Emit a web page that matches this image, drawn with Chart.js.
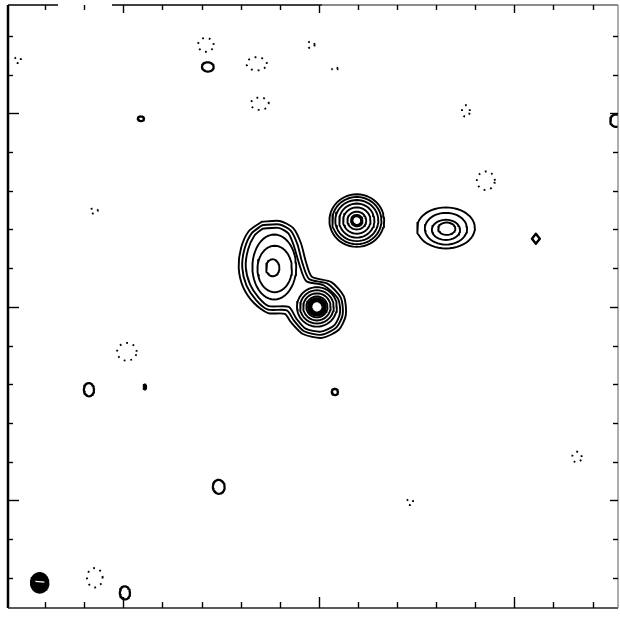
<!DOCTYPE html>
<html>
<head>
<meta charset="utf-8">
<script src="https://cdn.jsdelivr.net/npm/chart.js@4.4.1/dist/chart.umd.min.js"></script>
<style>
html,body{margin:0;padding:0;background:#fff;}
#wrap{width:620px;height:618px;}
</style>
</head>
<body>
<div id="wrap"><canvas id="c" width="620" height="618"></canvas></div>
<script>
// ---- Axes (offsets, arbitrary units: one unit per minor tick) ----
const X_TICKS = [-7,-6,-5,-4,-3,-2,-1,0,1,2,3,4,5,6,7];
const Y_TICKS = [-7,-6,-5,-4,-3,-2,-1,0,1,2,3,4,5,6,7];
const MAJOR_TICKS = [-5,0,5];
const X_LIMITS = [-7.95, 7.65];
const Y_LIMITS = [-7.78, 7.80];

// ---- Contours of the double source, traced as vertex lists [x, y] ----
const envelope1 = [[-1.46,2.20],[-1.00,2.22],[-0.66,2.04],[-0.46,1.65],[-0.33,1.16],[-0.18,0.78],[0.32,0.64],[0.64,0.27],[0.69,-0.21],[0.51,-0.59],[0.08,-0.80],[-0.41,-0.70],[-0.72,-0.39],[-0.87,-0.18],[-1.30,-0.16],[-1.66,0.10],[-1.94,0.52],[-2.05,1.01],[-1.99,1.52],[-1.79,1.96]];
const envelope2 = [[-1.45,2.11],[-1.01,2.13],[-0.72,1.97],[-0.55,1.62],[-0.42,1.13],[-0.25,0.72],[0.22,0.60],[0.56,0.24],[0.61,-0.19],[0.45,-0.53],[0.07,-0.72],[-0.38,-0.63],[-0.64,-0.35],[-0.82,-0.09],[-1.30,-0.07],[-1.60,0.17],[-1.85,0.55],[-1.96,1.02],[-1.90,1.50],[-1.72,1.90]];
const envelope3 = [[-1.44,2.02],[-1.03,2.04],[-0.78,1.90],[-0.64,1.58],[-0.50,1.10],[-0.32,0.66],[0.12,0.56],[0.49,0.21],[0.54,-0.16],[0.40,-0.47],[0.05,-0.64],[-0.34,-0.56],[-0.57,-0.31],[-0.77,0.00],[-1.28,0.02],[-1.54,0.24],[-1.76,0.58],[-1.87,1.03],[-1.81,1.48],[-1.65,1.84]];

// ---- Elliptical contours: [centreX, centreY, semiAxisX, semiAxisY] ----
const upperLobe = [[-1.14,1.03,0.56,0.84],[-1.13,0.98,0.44,0.60],[-1.18,1.01,0.17,0.22]];
const lowerCore = [[-0.05,0.00,0.51,0.51],[-0.05,0.00,0.43,0.43],[-0.05,0.00,0.35,0.35],[-0.05,0.00,0.27,0.27]];
const lowerCoreInner = [[-0.05,0.00,0.21,0.21],[-0.05,0.00,0.16,0.16]];
const compactSource = [[0.97,2.23,0.70,0.68],[0.97,2.23,0.63,0.61],[0.97,2.23,0.55,0.53],[0.97,2.23,0.45,0.44],[0.97,2.23,0.35,0.34],[0.97,2.23,0.24,0.23]];
const compactSourceInner = [[0.97,2.23,0.13,0.13]];
const eastSource = [[3.25,2.04,0.74,0.53],[3.25,2.02,0.54,0.41],[3.25,1.99,0.36,0.26],[3.27,2.02,0.22,0.16]];
const weakPositive = [[-2.84,6.20,0.15,0.12],[-4.55,4.86,0.08,0.06],[-5.88,-2.14,0.13,0.17],[0.41,-2.20,0.08,0.08],[-2.56,-4.65,0.15,0.18],[-4.96,-7.39,0.13,0.17],[7.60,4.81,0.15,0.16]];
const weakDiamond = [[5.55,1.76,0.10,0.13]];
const filledMarks = [[-4.45,-2.07,0.04,0.07],[-7.14,-7.13,0.23,0.26]];
const negative = [[-2.89,6.77,0.20,0.18],[-1.59,6.28,0.26,0.17],[-1.51,5.25,0.23,0.16],[-0.20,6.77,0.09,0.09],[0.41,6.15,0.07,0.05],[3.76,5.06,0.10,0.15],[4.27,3.26,0.23,0.24],[-5.75,2.48,0.10,0.07],[-4.91,-1.16,0.25,0.23],[-5.73,-7.00,0.20,0.25],[2.33,-5.04,0.08,0.08],[6.60,-3.88,0.12,0.14],[-7.70,6.38,0.08,0.08]];
const beamHatch = [[-7.25,-7.09],[-7.02,-7.11]];

// ---- Build datasets ----
function ellipse(e, n){
  const [cx,cy,rx,ry] = e, pts = [], k = n || 48;
  for(let i=0;i<=k;i++){ const t = i/k*2*Math.PI; pts.push({x:cx+rx*Math.cos(t), y:cy+ry*Math.sin(t)}); }
  return pts;
}
function poly(v){ const p = v.map(q=>({x:q[0],y:q[1]})); p.push({x:v[0][0],y:v[0][1]}); return p; }
const datasets = [];
function add(data, opts){ datasets.push(Object.assign({data, showLine:true, borderColor:'#000', borderWidth:1.9, pointRadius:0, fill:false, tension:0, borderJoinStyle:'round', borderCapStyle:'round', order:1}, opts||{})); }
[envelope1, envelope2, envelope3].forEach(v=>add(poly(v), {tension:0.25}));
upperLobe.forEach(e=>add(ellipse(e)));
lowerCore.forEach(e=>add(ellipse(e)));
lowerCoreInner.forEach(e=>add(ellipse(e), {borderWidth:3.2}));
compactSource.forEach(e=>add(ellipse(e)));
compactSourceInner.forEach(e=>add(ellipse(e), {borderWidth:3.2}));
eastSource.forEach(e=>add(ellipse(e)));
weakPositive.forEach(e=>add(ellipse(e), {borderWidth:2.2}));
weakDiamond.forEach(e=>add(ellipse(e, 4), {borderWidth:2.4}));
filledMarks.forEach(e=>add(ellipse(e), {fill:'shape', backgroundColor:'#000', borderWidth:1.5}));
negative.forEach(e=>add(ellipse(e), {borderWidth:1.9, borderDash:[1.8,5], borderCapStyle:'butt'}));
add(beamHatch.map(q=>({x:q[0],y:q[1]})), {borderColor:'#fff', borderWidth:1.3, borderCapStyle:'butt', order:-1});

// ---- Frame with inward ticks drawn from the scales ----
const framePlugin = {
  id:'frame',
  afterDraw(chart){
    const {ctx, chartArea:a, scales:{x, y}} = chart;
    const seg = (x1,y1,x2,y2)=>{ ctx.beginPath(); ctx.moveTo(x1,y1); ctx.lineTo(x2,y2); ctx.stroke(); };
    ctx.save();
    ctx.lineCap = 'butt';
    ctx.strokeStyle = '#000'; ctx.lineWidth = 2.5;
    seg(a.left, a.top, a.left, a.bottom);
    ctx.strokeStyle = '#222'; ctx.lineWidth = 1.6;
    seg(a.left, a.bottom, a.right, a.bottom);
    ctx.strokeStyle = '#000'; ctx.lineWidth = 1.6;
    seg(a.left, a.top, x.getPixelForValue(-6.67), a.top);
    seg(x.getPixelForValue(-5.29), a.top, x.getPixelForValue(0.08), a.top);
    ctx.strokeStyle = '#666';
    seg(x.getPixelForValue(0.08), a.top, a.right, a.top);
    ctx.strokeStyle = '#777'; ctx.lineWidth = 1.2;
    seg(a.right, a.top, a.right, a.bottom);
    ctx.strokeStyle = '#000'; ctx.lineWidth = 1.4;
    X_TICKS.forEach(v=>{
      const px = Math.round(x.getPixelForValue(v)) + 0.5, major = MAJOR_TICKS.includes(v);
      seg(px, a.bottom, px, a.bottom - (major ? 11 : 6));
      seg(px, a.top, px, a.top + (major ? 8 : 5));
    });
    Y_TICKS.forEach(v=>{
      const py = Math.round(y.getPixelForValue(v)) + 0.5, major = MAJOR_TICKS.includes(v);
      seg(a.left, py, a.left + (major ? 11 : 5), py);
      seg(a.right, py, a.right - (major ? 8 : 5), py);
    });
    ctx.restore();
  }
};

new Chart(document.getElementById('c'), {
  type:'scatter',
  data:{datasets},
  options:{
    responsive:false, animation:false, devicePixelRatio:1,
    layout:{padding:{left:8, right:2, top:5, bottom:10}},
    plugins:{legend:{display:false}, tooltip:{enabled:false}},
    scales:{
      x:{type:'linear', min:X_LIMITS[0], max:X_LIMITS[1], display:false},
      y:{type:'linear', min:Y_LIMITS[0], max:Y_LIMITS[1], display:false}
    }
  },
  plugins:[framePlugin]
});
</script>
</body>
</html>
